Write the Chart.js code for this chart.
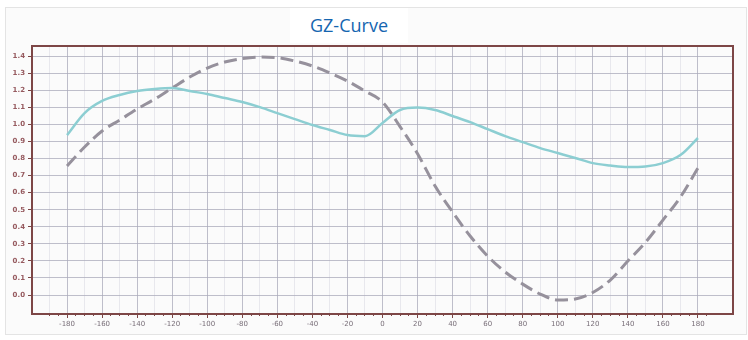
<!DOCTYPE html>
<html>
<head>
<meta charset="utf-8">
<script src="https://cdn.jsdelivr.net/npm/chart.js@4"></script>
<style>
  html, body { margin: 0; padding: 0; background: #fff; }
  #wrap { position: relative; width: 748px; height: 340px; overflow: hidden; }
  #panel { position: absolute; left: 5px; top: 7px; width: 740px; height: 326px;
           border: 1px solid #e4e4e4; background: #fbfbfb; }
  #title { position: absolute; left: 290px; top: 8px; width: 118px; height: 35px;
           background: #fff; color: #1565b0; font: 18px "Open Sans", sans-serif;
           text-align: center; line-height: 34px; }
  canvas { position: absolute; left: 0; top: 0; }
</style>
</head>
<body>
<div id="wrap">
  <div id="panel"></div>
  <div id="title">GZ-Curve</div>
  <canvas id="myChart" width="748" height="340"></canvas>
</div>
<script>
// heel angle (deg)
var angles = [-180,-170,-160,-150,-140,-130,-120,-110,-100,-90,-80,-70,-60,-50,-40,-30,-20,-10,
              0,10,20,30,40,50,60,70,80,90,100,110,120,130,140,150,160,170,180];
// solid teal curve
var gzSolid = [0.937,1.066,1.137,1.172,1.195,1.207,1.213,1.195,1.178,1.154,1.131,1.101,1.066,1.031,0.996,0.967,0.937,0.931,
               1.008,1.084,1.098,1.084,1.049,1.013,0.972,0.931,0.896,0.861,0.832,0.803,0.773,0.759,0.750,0.753,0.773,0.820,0.920];
// dashed grey curve
var gzDashed = [0.756,0.867,0.961,1.025,1.090,1.148,1.213,1.277,1.330,1.365,1.385,1.394,1.391,1.371,1.342,1.301,1.254,1.195,
                1.131,0.987,0.828,0.639,0.486,0.346,0.228,0.135,0.064,0.006,-0.029,-0.023,0.015,0.088,0.199,0.308,0.439,0.574,0.744];
var yTicks = [0,0.1,0.2,0.3,0.4,0.5,0.6,0.7,0.8,0.9,1.0,1.1,1.2,1.3,1.4];
var xTicks = [-180,-160,-140,-120,-100,-80,-60,-40,-20,0,20,40,60,80,100,120,140,160,180];

var frame = 'rgb(125,70,70)';
var grid = 'rgba(170,170,185,0.75)';

function pts(vals) {
  return angles.map(function (a, i) { return { x: a, y: vals[i] }; });
}

var ctx = document.getElementById('myChart').getContext('2d');
var myChart = new Chart(ctx, {
    type: 'line',
    data: {
        datasets: [{
            label: 'GZ solid',
            data: pts(gzSolid),
            borderColor: 'rgb(140,206,210)',
            borderWidth: 2.5,
            pointRadius: 0,
            cubicInterpolationMode: 'monotone'
        }, {
            label: 'GZ dashed',
            data: pts(gzDashed),
            borderColor: 'rgb(150,145,156)',
            borderWidth: 3,
            borderDash: [13, 6],
            pointRadius: 0,
            cubicInterpolationMode: 'monotone'
        }]
    },
    options: {
        responsive: false,
        animation: false,
        layout: { padding: { top: 46, right: 15, bottom: 0, left: 0 } },
        plugins: { legend: { display: false }, tooltip: { enabled: false } },
        scales: {
            x: {
                type: 'linear', position: 'bottom', weight: 1,
                min: -200, max: 200,
                afterBuildTicks: function (s) { s.ticks = xTicks.map(function (v) { return { value: v }; }); },
                afterFit: function (s) { s.height = 26; },
                grid: { color: grid, tickColor: frame, tickLength: 4 },
                border: { color: frame, width: 2 },
                ticks: { font: { size: 7, family: 'DejaVu Sans' }, color: 'rgb(120,110,120)', padding: 2, maxRotation: 0, autoSkip: false }
            },
            xMinor: {
                type: 'linear', position: 'bottom', weight: 0,
                min: -200, max: 200,
                afterBuildTicks: function (s) {
                    var t = [];
                    for (var i = 0; i < xTicks.length; i++) t.push({ value: xTicks[i] - 10 }, { value: xTicks[i] - 5 }, { value: xTicks[i] + 5 });
                    s.ticks = t;
                },
                afterFit: function (s) { s.height = 0; },
                grid: {
                    color: function (c) { return (c.tick && c.tick.value % 10 === 0) ? 'rgba(190,190,205,0.3)' : 'rgba(0,0,0,0)'; },
                    tickColor: frame, tickLength: 2
                },
                border: { display: false },
                ticks: { display: false }
            },
            xTop: {
                type: 'linear', position: 'top', min: -200, max: 200,
                afterFit: function (s) { s.height = 0; },
                grid: { display: false },
                border: { color: frame, width: 2 },
                ticks: { display: false }
            },
            y: {
                type: 'linear', position: 'left',
                min: -0.111, max: 1.459,
                afterBuildTicks: function (s) { s.ticks = yTicks.map(function (v) { return { value: v }; }); },
                afterFit: function (s) { s.width = 32; },
                grid: { color: grid, tickColor: frame, tickLength: 4 },
                border: { color: frame, width: 2 },
                ticks: {
                    font: { size: 7, family: 'DejaVu Sans', weight: 'bold' }, color: 'rgb(150,90,95)', padding: 3,
                    callback: function (v) { return v.toFixed(1); }
                }
            },
            yRight: {
                type: 'linear', position: 'right', min: -0.111, max: 1.459,
                afterFit: function (s) { s.width = 0; },
                grid: { display: false },
                border: { color: frame, width: 2 },
                ticks: { display: false }
            }
        }
    }
});
</script>
</body>
</html>
